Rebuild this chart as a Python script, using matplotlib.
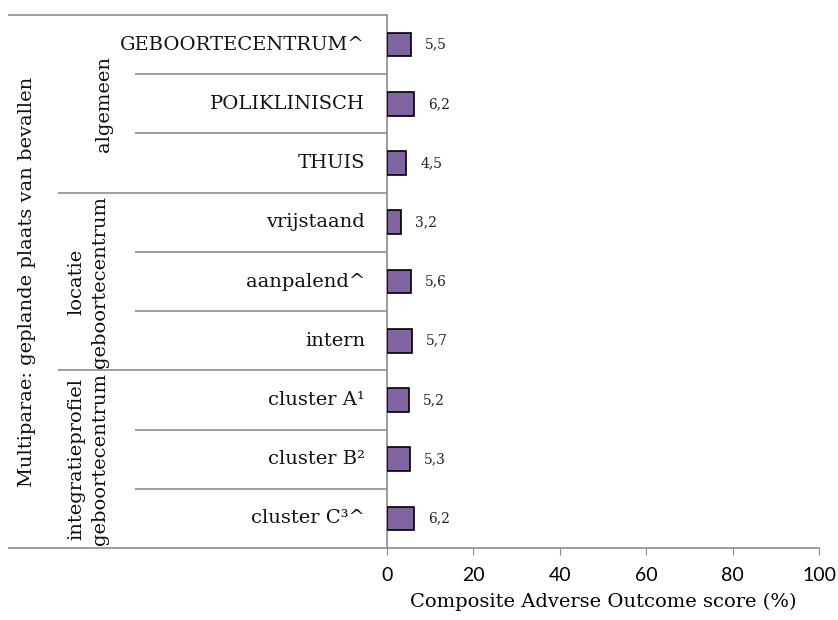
import matplotlib
matplotlib.use("Agg")
import matplotlib.pyplot as plt
import matplotlib.transforms as mtransforms

# data, top to bottom
categories = ["GEBOORTECENTRUM^", "POLIKLINISCH", "THUIS",
              "vrijstaand", "aanpalend^", "intern",
              "cluster A\u00b9", "cluster B\u00b2", "cluster C\u00b3^"]
values = [5.5, 6.2, 4.5, 3.2, 5.6, 5.7, 5.2, 5.3, 6.2]
value_labels = ["5,5", "6,2", "4,5", "3,2", "5,6", "5,7", "5,2", "5,3", "6,2"]
groups = ["algemeen", "locatie\ngeboortecentrum", "integratieprofiel\ngeboortecentrum"]
group_sizes = [3, 3, 3]
outer_label = "Multiparae: geplande plaats van bevallen"
xticks = [0, 20, 40, 60, 80, 100]
xlabel = "Composite Adverse Outcome score (%)"

SERIF = "DejaVu Serif"
SANS = "Lato"
GRID = "#8c8c8c"
BAR = "#8064A2"

W, H = 838, 620
fig = plt.figure(figsize=(W / 100, H / 100), dpi=100)
ax = fig.add_axes([387 / W, 1 - 548 / H, (819 - 387) / W, (548 - 15) / H])

n = len(categories)
ypos = list(range(n))
ax.barh(ypos, values, height=0.4, color=BAR, edgecolor="black", linewidth=1.2, zorder=3)
for y, v, lab in zip(ypos, values, value_labels):
    ax.annotate(lab, (v, y), xytext=(10, 0), textcoords="offset points",
                ha="left", va="center", fontsize=10, family=SERIF, color="#222222")

ax.set_xlim(0, 100)
ax.set_ylim(n - 0.5, -0.5)
ax.set_xticks(xticks)
ax.set_xticklabels([str(t) for t in xticks], family=SANS, fontsize=14)
ax.set_yticks([])
ax.tick_params(axis="x", length=5, color=GRID, direction="out", pad=9)
for s in ["top", "right"]:
    ax.spines[s].set_visible(False)
for s in ["left", "bottom"]:
    ax.spines[s].set_color(GRID)
    ax.spines[s].set_linewidth(1.2)
ax.set_xlabel(xlabel, family=SERIF, fontsize=14, labelpad=6)

# label area to the left of the axis: x in axes fraction, y in data
trans = mtransforms.blended_transform_factory(ax.transAxes, ax.transData)
x_outer = (8 - 387) / 432
x_group = (58 - 387) / 432
x_cat = (135 - 387) / 432
x_text = (365 - 387) / 432

for y, cat in zip(ypos, categories):
    ax.text(x_text, y, cat, transform=trans, ha="right", va="center",
            fontsize=14, family=SERIF, color="#111111")

# row separators
start = 0
bounds = []
for size in group_sizes:
    bounds.append((start, start + size))
    start += size
for b in range(n + 1):
    edge = b - 0.5
    if b == 0 or b == n:
        x0 = x_outer
    elif any(b == lo for lo, hi in bounds):
        x0 = x_group
    else:
        x0 = x_cat
    ax.plot([x0, 0], [edge, edge], transform=trans, color=GRID, lw=1.2,
            clip_on=False, solid_capstyle="butt")

# group labels
for (lo, hi), g in zip(bounds, groups):
    ax.text((104 - 387) / 432 if "\n" not in g else (88 - 387) / 432,
            (lo + hi - 1) / 2, g, transform=trans, rotation=90,
            ha="center", va="center", fontsize=14, family=SERIF,
            linespacing=1.4, color="#111111")

ax.text((27 - 387) / 432, (n - 1) / 2, outer_label, transform=trans, rotation=90,
        ha="center", va="center", fontsize=14, family=SERIF, color="#111111")

fig.savefig("out.png", dpi=100)
